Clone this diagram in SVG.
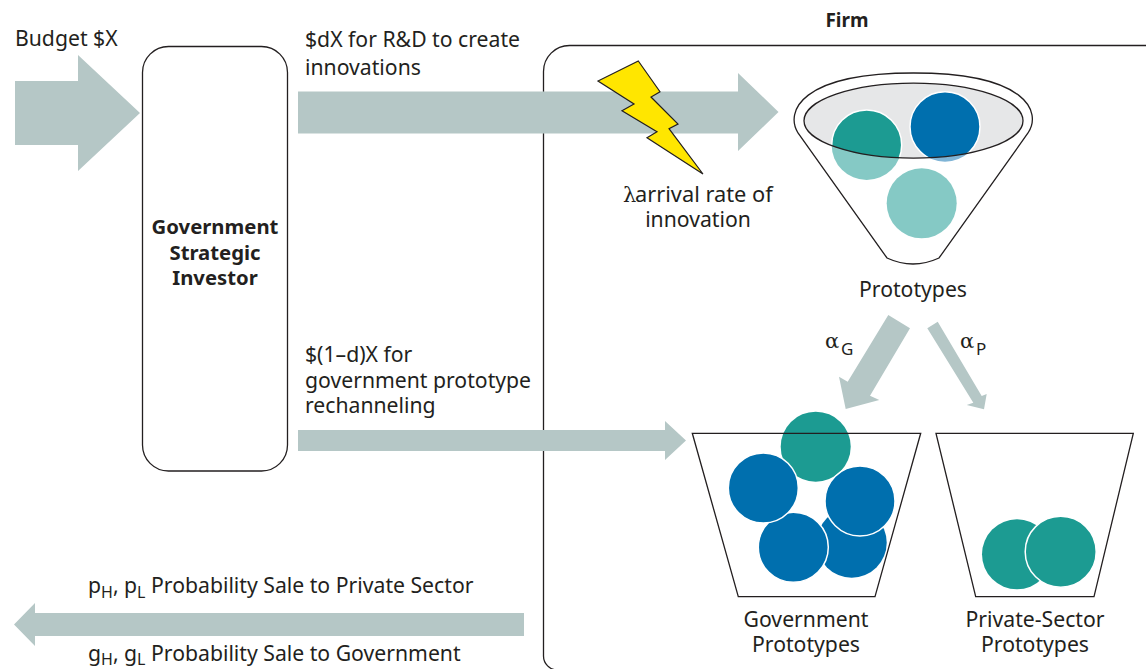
<svg xmlns="http://www.w3.org/2000/svg" width="1146" height="669" viewBox="0 0 1146 669">
<style>
text{font-family:"Noto Sans","Open Sans",sans-serif;font-size:21.2px;fill:#231f20}
.m{text-anchor:middle}
.b{font-weight:700;font-size:20.3px}
.s{font-size:16px}
.g{font-family:"DejaVu Serif","Liberation Serif",serif;font-size:21px}
.arrow{fill:#b5c7c6}
.line{fill:none;stroke:#231f20;stroke-width:1.3}
.teal{fill:#1c9b92}
.blue{fill:#006fae}
.w{stroke:#fff;stroke-width:1.5}
</style>
<defs>
<clipPath id="rim"><ellipse cx="913.5" cy="120.7" rx="109.5" ry="37.5"/></clipPath>
</defs>
<rect width="1146" height="669" fill="#fff"/>
<g id="firm">
<path class="line" d="M1150,45.5 H569.5 A26,26 0 0 0 543.5,71.5 V656 A14,14 0 0 0 557.5,670"/>
<text class="b m" x="847" y="26.5" style="font-size:19px">Firm</text>
</g>
<g id="connectors">
<polygon class="arrow" points="15,81 78,81 78,55 140,113 78,171 78,145 15,145"/>
<polygon class="arrow" points="298,91.5 738,91.5 738,73 778.5,112 738,151 738,133.5 298,133.5"/>
<polygon class="arrow" points="298,430 665,430 665,421 686,440.5 665,460 665,451 298,451"/>
<polygon class="arrow" points="524,613 35,613 35,603 14,624.5 35,646 35,636 524,636"/>
<polygon class="arrow" points="888.3,315 910,328.3 870,395.7 879.3,400 845.7,409 839,376.7 847.7,381.7"/>
<polygon class="arrow" points="937.7,321.7 927.3,328.3 973.3,402.7 966.7,405 984,409.3 986.7,394 981.7,396"/>
</g>
<g id="budget"><text x="15" y="46">Budget $X</text></g>
<g id="investor">
<rect class="line" x="142.5" y="46.5" width="145" height="424.5" rx="26" ry="26" fill="#fff"/>
<text class="b m" x="215" y="234">Government</text>
<text class="b m" x="215" y="260">Strategic</text>
<text class="b m" x="215" y="285">Investor</text>
</g>
<g id="label-rd"><text x="305" y="47">$dX for R&amp;D to create</text><text x="305" y="75">innovations</text></g>
<g id="label-rechannel"><text x="305" y="362">$(1–d)X for</text><text x="305" y="388">government prototype</text><text x="305" y="413">rechanneling</text></g>
<g id="label-sales">
<text x="88" y="592.5">p<tspan class="s" dy="5">H</tspan><tspan dy="-5">, p</tspan><tspan class="s" dy="5">L</tspan><tspan dy="-5"> Probability Sale to Private Sector</tspan></text>
<text x="88" y="660.5">g<tspan class="s" dy="4">H</tspan><tspan dy="-4">, g</tspan><tspan class="s" dy="4">L</tspan><tspan dy="-4"> Probability Sale to Government</tspan></text>
</g>
<g id="lightning">
<polygon points="638.3,61 660,91.7 651,97 678,124 669,128.7 703,174 647,137.7 657,131.7 622,110.7 634,104 598,81" fill="#ffe600" stroke="#231f20" stroke-width="1.2"/>
<text x="623" y="201.5"><tspan class="g">λ</tspan><tspan x="635" style="font-size:21.8px">arrival rate of</tspan></text>
<text class="m" x="698" y="227">innovation</text>
</g>
<g id="funnel">
<path class="line" d="M798,133 C785,112 800,73 913.5,73 C1027,73 1042,112 1028,133 L939,258 Q913,270 887,258 Z"/>
<ellipse cx="913.5" cy="120.7" rx="109.5" ry="37.5" fill="#e6e7e8"/>
<circle cx="866.7" cy="145" r="35" fill="#85c9c5"/>
<circle cx="945" cy="126.7" r="35" fill="#7fb4d6"/>
<circle cx="921.7" cy="203.3" r="35" fill="#85c9c5"/>
<g clip-path="url(#rim)">
<circle class="teal w" cx="866.7" cy="145" r="35"/>
<circle class="blue w" cx="945" cy="126.7" r="35"/>
</g>
<ellipse class="line" cx="913.5" cy="120.7" rx="109.5" ry="37.5"/>
<text class="m" x="913" y="296.5">Prototypes</text>
</g>
<g id="label-alpha">
<text class="g" x="825" y="348">α</text><text x="841" y="355" style="font-size:17px">G</text>
<text class="g" x="960" y="348">α</text><text x="976" y="355" style="font-size:17px">P</text>
</g>
<g id="gov-bin">
<circle class="teal" cx="815.7" cy="446.7" r="35"/>
<polygon class="line" points="692.3,433.3 920.7,433.3 875,596.7 738.3,596.7"/>
<circle class="blue" cx="851.7" cy="542.7" r="35"/>
<circle class="blue w" cx="860" cy="501" r="35"/>
<circle class="blue w" cx="793.3" cy="547.3" r="35"/>
<circle class="blue w" cx="763.3" cy="488" r="35"/>
<text class="m" x="806" y="626.5">Government</text>
<text class="m" x="806" y="652">Prototypes</text>
</g>
<g id="private-bin">
<polygon class="line" points="936,433.3 1133.3,433.3 1094,596.7 975.7,596.7"/>
<circle class="teal" cx="1017" cy="554.3" r="35"/>
<circle class="teal w" cx="1060.7" cy="551.7" r="35.5"/>
<text class="m" x="1035" y="626.5">Private-Sector</text>
<text class="m" x="1035" y="652">Prototypes</text>
</g>
</svg>
